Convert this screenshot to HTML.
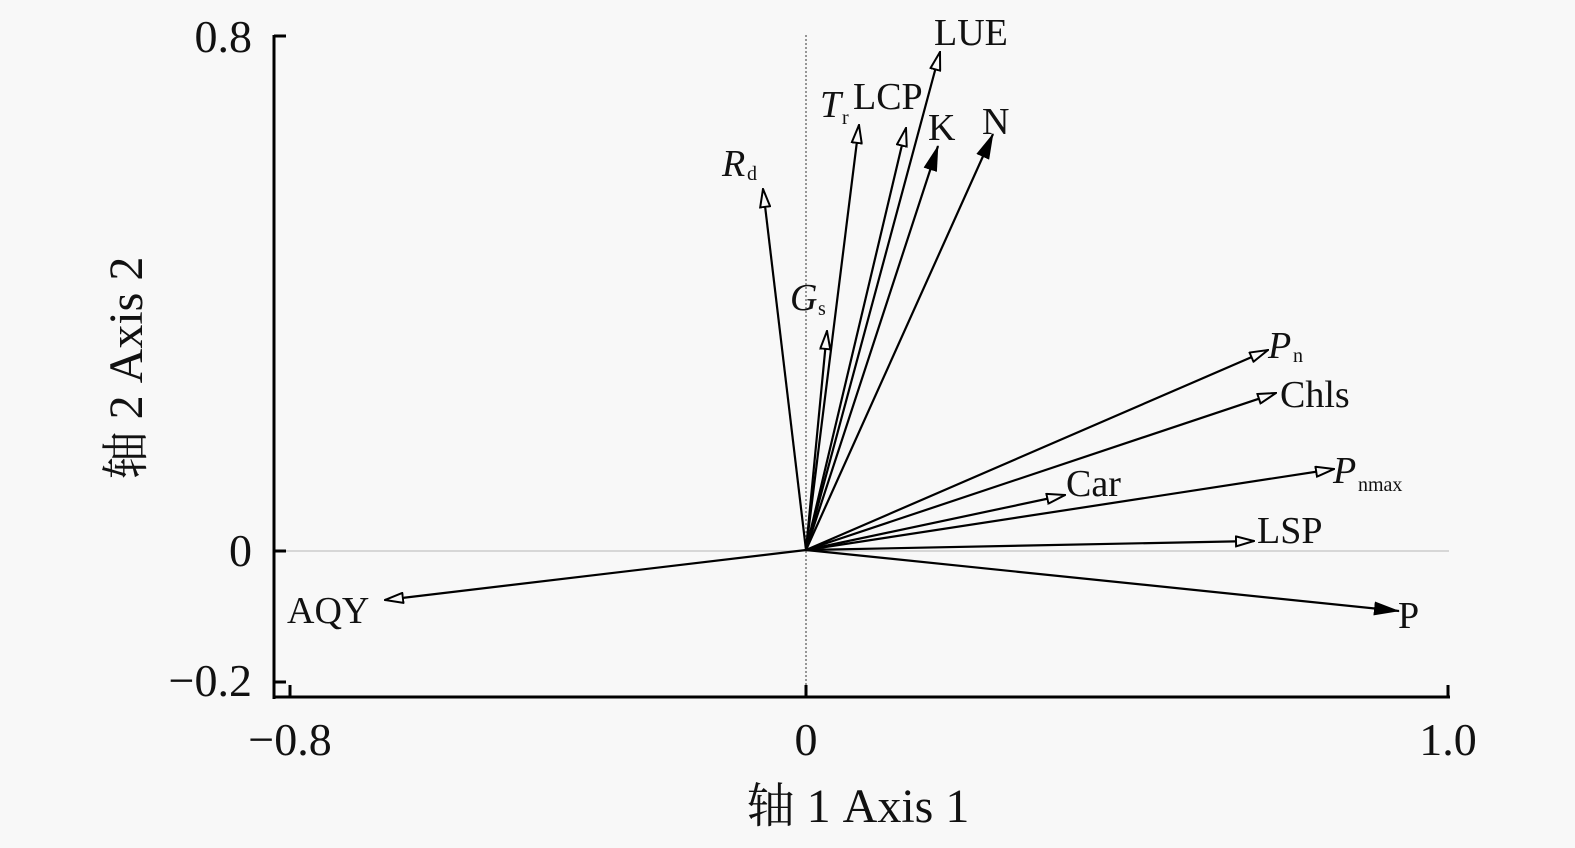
<!DOCTYPE html>
<html><head><meta charset="utf-8"><style>
html,body{margin:0;padding:0;background:#f8f8f8;}
svg{display:block;}
text{font-family:"Liberation Serif","Noto Serif CJK SC",serif;fill:#111;}
</style></head><body>
<svg width="1575" height="848" viewBox="0 0 1575 848" xmlns="http://www.w3.org/2000/svg">
<defs>
<marker id="o" viewBox="0 0 20 12" refX="19" refY="6" markerWidth="20" markerHeight="12" markerUnits="userSpaceOnUse" orient="auto">
<path d="M1,1 L19,6 L1,11 Z" fill="#f8f8f8" stroke="#000" stroke-width="2"/></marker>
<marker id="f" viewBox="0 0 26 14" refX="25" refY="7" markerWidth="26" markerHeight="14" markerUnits="userSpaceOnUse" orient="auto">
<path d="M0,0 L26,7 L0,14 Z" fill="#000"/></marker>
</defs>
<line x1="274" y1="551" x2="1449" y2="551" stroke="#ccc" stroke-width="1.5"/>
<line x1="806" y1="35" x2="806" y2="699" stroke="#555" stroke-width="1.2" stroke-dasharray="2,2"/>
<line x1="274" y1="35" x2="274" y2="699" stroke="#000" stroke-width="3"/>
<line x1="273" y1="697" x2="1450" y2="697" stroke="#000" stroke-width="3"/>
<line x1="274" y1="36" x2="286" y2="36" stroke="#000" stroke-width="3"/>
<line x1="274" y1="551" x2="286" y2="551" stroke="#000" stroke-width="3"/>
<line x1="274" y1="682" x2="286" y2="682" stroke="#000" stroke-width="3"/>
<line x1="290" y1="685" x2="290" y2="697" stroke="#000" stroke-width="3"/>
<line x1="806" y1="685" x2="806" y2="697" stroke="#000" stroke-width="3"/>
<line x1="1448" y1="685" x2="1448" y2="697" stroke="#000" stroke-width="3"/>
<g font-size="46" text-anchor="end">
<text x="252" y="52">0.8</text>
<text x="252" y="566">0</text>
<text x="252" y="696">−0.2</text>
</g>
<g font-size="46" text-anchor="middle">
<text x="290" y="755">−0.8</text>
<text x="806" y="755">0</text>
<text x="1448" y="755">1.0</text>
</g>
<text x="858" y="822" font-size="48" text-anchor="middle">轴 1 Axis 1</text>
<text transform="translate(142,368) rotate(-90)" font-size="48" text-anchor="middle">轴 2 Axis 2</text>
<g stroke="#000" stroke-width="2.2" fill="none">
<line x1="806" y1="550" x2="940" y2="52" marker-end="url(#o)"/>
<line x1="806" y1="550" x2="906" y2="128" marker-end="url(#o)"/>
<line x1="806" y1="550" x2="859" y2="125" marker-end="url(#o)"/>
<line x1="806" y1="550" x2="763" y2="189" marker-end="url(#o)"/>
<line x1="806" y1="550" x2="827" y2="331" marker-end="url(#o)"/>
<line x1="806" y1="550" x2="1268" y2="350" marker-end="url(#o)"/>
<line x1="806" y1="550" x2="1276" y2="393" marker-end="url(#o)"/>
<line x1="806" y1="550" x2="1065" y2="495" marker-end="url(#o)"/>
<line x1="806" y1="550" x2="1334" y2="469" marker-end="url(#o)"/>
<line x1="806" y1="550" x2="1254" y2="541" marker-end="url(#o)"/>
<line x1="806" y1="550" x2="385" y2="600" marker-end="url(#o)"/>
<line x1="806" y1="550" x2="938" y2="146" marker-end="url(#f)"/>
<line x1="806" y1="550" x2="993" y2="134" marker-end="url(#f)"/>
<line x1="806" y1="550" x2="1399" y2="611" marker-end="url(#f)"/>
</g>
<g font-size="38">
<text x="934" y="45">LUE</text>
<text x="853" y="109">LCP</text>
<text x="820" y="117" font-style="italic">T</text><text x="842" y="124" font-size="20">r</text>
<text x="928" y="140">K</text>
<text x="982" y="134">N</text>
<text x="722" y="176" font-style="italic">R</text><text x="747" y="180" font-size="20">d</text>
<text x="790" y="310" font-style="italic">G</text><text x="818" y="315" font-size="20">s</text>
<text x="1268" y="358" font-style="italic">P</text><text x="1293" y="362" font-size="20">n</text>
<text x="1280" y="407">Chls</text>
<text x="1066" y="496">Car</text>
<text x="1333" y="483" font-style="italic">P</text><text x="1358" y="491" font-size="20">nmax</text>
<text x="1257" y="543">LSP</text>
<text x="1398" y="628">P</text>
<text x="287" y="623">AQY</text>
</g>
</svg>
</body></html>
